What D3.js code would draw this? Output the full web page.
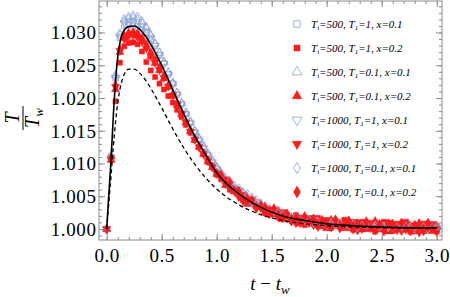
<!DOCTYPE html>
<html>
<head>
<meta charset="utf-8">
<script src="https://cdn.jsdelivr.net/npm/d3@7"></script>
<style>
  body { margin: 0; background: #fff; }
  svg { display: block; font-family: "Liberation Serif", "DejaVu Serif", serif; }
  svg text { font-family: "Liberation Serif", "DejaVu Serif", serif !important; }
</style>
</head>
<body>
<div id="chart"></div>
<script>
'use strict';

// time samples shared by all simulated series
var tSample = [0,0.04,0.08,0.12,0.16,0.2,0.24,0.28,0.32,0.36,0.4,0.44,0.48,0.52,0.56,0.6,0.64,0.68,0.72,0.76,
  0.8,0.84,0.88,0.92,0.96,1,1.04,1.08,1.12,1.16,1.2,1.24,1.28,1.32,1.36,1.4,1.44,1.48,1.52,1.56,1.6,1.64,1.68,
  1.72,1.76,1.8,1.84,1.88,1.92,1.96,2,2.04,2.08,2.12,2.16,2.2,2.24,2.28,2.32,2.36,2.4,2.44,2.48,2.52,2.56,2.6,
  2.64,2.68,2.72,2.76,2.8,2.84,2.88,2.92,2.96,3];

var s500a01 = [1,1.0110,1.0230,1.0292,1.0310,1.0312,1.0310,1.0309,1.0305,1.0299,1.0290,1.0279,1.0265,1.0253,1.0236,1.0222,1.0205,1.0191,1.0175,1.0162,1.0147,1.0136,1.0123,1.0113,1.0101,1.0092,
  1.0082,1.0076,1.0067,1.0063,1.0059,1.0051,1.0044,1.0043,1.0041,1.0034,1.0032,1.0026,1.0028,1.0022,1.0022,1.0016,1.0018,1.0018,1.0013,1.0013,
  1.0014,1.0008,1.0011,1.0009,1.0006,1.0010,1.0006,1.0008,1.0009,1.0004,1.0006,1.0006,1.0002,1.0007,1.0003,1.0004,1.0007,1.0002,1.0004,1.0002,
  1.0005,1.0003,1.0000,1.0004,1.0004,1.0001,1.0002,1.0003,1.0000,1.0004];
var s500a02 = [1,1.0107,1.0195,1.0254,1.0279,1.0284,1.0285,1.0282,1.0271,1.0255,1.0242,1.0232,1.0222,1.0213,1.0203,1.0193,1.0182,1.0171,1.0159,1.0147,1.0136,1.0125,1.0115,1.0102,1.0095,1.0083,
  1.0076,1.0074,1.0060,1.0059,1.0057,1.0044,1.0042,1.0044,1.0034,1.0034,1.0024,1.0029,1.0030,1.0018,1.0020,1.0021,1.0012,1.0021,1.0012,1.0006,
  1.0016,1.0008,1.0017,1.0004,1.0009,1.0002,1.0012,1.0005,1.0014,1.0002,0.9999,1.0008,1.0011,1.0000,1.0006,0.9996,1.0008,1.0011,1.0000,0.9997,
  1.0008,1.0001,1.0011,0.9996,1.0005,0.9998,1.0008,0.9997,1.0004,0.9996];
var s500b01 = [1,1.0112,1.0235,1.0298,1.0320,1.0324,1.0326,1.0324,1.0317,1.0308,1.0296,1.0283,1.0269,1.0255,1.0239,1.0223,1.0208,1.0192,1.0177,1.0163,1.0149,1.0137,1.0125,1.0114,1.0103,1.0093,
  1.0083,1.0073,1.0070,1.0062,1.0053,1.0054,1.0047,1.0041,1.0039,1.0037,1.0030,1.0030,1.0023,1.0023,1.0024,1.0018,1.0016,1.0017,1.0015,1.0010,
  1.0013,1.0013,1.0010,1.0007,1.0011,1.0007,1.0009,1.0007,1.0004,1.0007,1.0009,1.0004,1.0005,1.0007,1.0002,1.0005,1.0004,1.0001,1.0005,1.0004,
  1.0002,1.0003,1.0005,1.0001,1.0003,1.0005,1.0001,1.0002,1.0000,1.0003];
var s500b02 = [1,1.0105,1.0213,1.0270,1.0292,1.0297,1.0298,1.0295,1.0287,1.0277,1.0264,1.0253,1.0242,1.0230,1.0217,1.0203,1.0189,1.0175,1.0162,1.0149,1.0136,1.0125,1.0114,1.0104,1.0094,1.0084,
  1.0083,1.0067,1.0067,1.0057,1.0058,1.0047,1.0038,1.0042,1.0036,1.0038,1.0026,1.0028,1.0022,1.0028,1.0015,1.0020,1.0015,1.0019,1.0008,1.0016,
  1.0011,1.0016,1.0006,1.0011,1.0001,1.0014,1.0004,1.0008,1.0001,1.0013,1.0004,1.0009,0.9999,1.0008,1.0000,1.0012,0.9999,1.0006,0.9996,1.0008,
  1.0000,1.0009,0.9999,1.0004,0.9996,1.0009,1.0000,1.0006,0.9997,1.0005];
var s1000a01 = [1,1.0109,1.0231,1.0294,1.0314,1.0317,1.0316,1.0314,1.0309,1.0302,1.0292,1.0280,1.0266,1.0252,1.0236,1.0221,1.0205,1.0190,1.0175,1.0161,1.0147,1.0135,1.0123,1.0112,1.0102,1.0091,
  1.0081,1.0070,1.0069,1.0060,1.0056,1.0053,1.0043,1.0041,1.0040,1.0033,1.0028,1.0029,1.0026,1.0021,1.0023,1.0018,1.0019,1.0013,1.0014,1.0014,
  1.0011,1.0014,1.0010,1.0010,1.0006,1.0008,1.0009,1.0006,1.0007,1.0006,1.0004,1.0006,1.0007,1.0004,1.0004,1.0002,1.0005,1.0006,1.0003,1.0002,
  1.0004,1.0001,1.0003,1.0005,1.0001,1.0003,1.0002,1.0000,1.0003,1.0002];
var s1000a02 = [1,1.0106,1.0217,1.0272,1.0290,1.0295,1.0296,1.0293,1.0286,1.0276,1.0264,1.0254,1.0243,1.0231,1.0218,1.0204,1.0190,1.0176,1.0163,1.0149,1.0137,1.0125,1.0115,1.0104,1.0095,1.0085,
  1.0078,1.0076,1.0062,1.0061,1.0049,1.0052,1.0043,1.0045,1.0034,1.0035,1.0025,1.0030,1.0025,1.0018,1.0026,1.0016,1.0018,1.0009,1.0018,1.0010,
  1.0017,1.0006,1.0012,1.0008,1.0014,1.0004,1.0010,1.0001,1.0008,1.0004,1.0011,0.9998,1.0009,1.0004,1.0010,0.9999,1.0005,1.0000,1.0010,1.0000,
  1.0005,0.9997,1.0008,1.0001,1.0006,0.9995,1.0005,1.0001,1.0008,0.9998];
var s1000b01 = [1,1.0111,1.0233,1.0296,1.0317,1.0321,1.0322,1.0320,1.0314,1.0306,1.0295,1.0282,1.0269,1.0254,1.0239,1.0223,1.0208,1.0192,1.0178,1.0164,1.0150,1.0138,1.0127,1.0115,1.0105,1.0095,
  1.0086,1.0077,1.0073,1.0066,1.0062,1.0056,1.0053,1.0048,1.0044,1.0039,1.0035,1.0031,1.0028,1.0026,1.0022,1.0021,1.0018,1.0017,1.0014,1.0014,
  1.0014,1.0010,1.0010,1.0010,1.0006,1.0009,1.0007,1.0009,1.0005,1.0006,1.0007,1.0003,1.0005,1.0007,1.0003,1.0005,1.0004,1.0003,1.0005,1.0003,
  1.0001,1.0004,1.0003,1.0002,1.0004,1.0002,1.0003,1.0000,1.0002,1.0003];
var s1000b02 = [1,1.0108,1.0219,1.0274,1.0294,1.0299,1.0300,1.0298,1.0291,1.0281,1.0269,1.0258,1.0246,1.0233,1.0219,1.0205,1.0191,1.0177,1.0163,1.0150,1.0137,1.0126,1.0115,1.0105,1.0095,1.0085,
  1.0081,1.0069,1.0071,1.0058,1.0057,1.0043,1.0046,1.0044,1.0032,1.0033,1.0033,1.0023,1.0031,1.0021,1.0017,1.0023,1.0012,1.0017,1.0010,1.0019,
  1.0010,1.0014,1.0004,1.0013,1.0007,1.0003,1.0014,1.0004,1.0006,1.0011,1.0000,1.0007,1.0001,1.0011,1.0002,0.9999,1.0007,0.9997,1.0008,1.0004,
  0.9999,1.0009,1.0000,0.9997,1.0006,1.0002,0.9997,1.0009,1.0000,0.9996];

// the two analytic curves
var tCurve = [0,0.02,0.04,0.06,0.08,0.1,0.12,0.15,0.2,0.25,0.3,0.35,0.4,0.5,0.6,0.7,0.8,0.9,1,1.2,1.4,1.6,1.8,2,2.25,2.5,2.75,3];
var solidCurve = [1,1.0055,1.0107,1.0172,1.0225,1.0262,1.0284,1.0301,1.0309,1.0310,1.0305,1.0295,1.0282,1.0250,1.0213,1.0176,1.0142,1.0113,1.0086,
  1.0054,1.0033,1.0020,1.0013,1.0008,1.0005,1.0003,1.0002,1.0002];
var dashedCurve = [1,1.0042,1.0082,1.0125,1.0162,1.0192,1.0213,1.0232,1.0244,1.0244,1.0238,1.0228,1.0215,1.0185,1.0153,1.0124,1.0099,1.0078,1.0061,
  1.0037,1.0022,1.0013,1.0008,1.0005,1.0003,1.0002,1.0001,1.0001];

var legendTi = ['500','500','500','500','1000','1000','1000','1000'];
var legendT1 = ['1','1','0.1','0.1','1','1','0.1','0.1'];
var legendX = ['0.1','0.2','0.1','0.2','0.1','0.2','0.1','0.2'];

var xTicks = [0, 0.5, 1, 1.5, 2, 2.5, 3];
var yTicks = [1.000, 1.005, 1.010, 1.015, 1.020, 1.025, 1.030];

var series = [
  {values: s500a01, shape: d3.symbolSquare, filled: false, size: 30},
  {values: s500a02, shape: d3.symbolSquare, filled: true, size: 26},
  {values: s500b01, shape: d3.symbolTriangle, filled: false, size: 30},
  {values: s500b02, shape: d3.symbolTriangle, filled: true, size: 28},
  {values: s1000a01, shape: 'down', filled: false, size: 30},
  {values: s1000a02, shape: 'down', filled: true, size: 28},
  {values: s1000b01, shape: d3.symbolDiamond, filled: false, size: 26},
  {values: s1000b02, shape: d3.symbolDiamond, filled: true, size: 30}
];

var BLUE = '#8aa3d6';
var RED = '#ff1a1a';
var FRAME = '#8c8c8c';
var SERIF = '"Liberation Serif", "DejaVu Serif", serif';

var width = 450, height = 297;
var pLeft = 99, pRight = 442, pTop = 1, pBottom = 240;

var svg = d3.select('#chart').append('svg')
  .attr('width', width)
  .attr('height', height);

var x = d3.scaleLinear().domain([-0.07, 3.048]).range([pLeft, pRight]);
var y = d3.scaleLinear().domain([0.99832, 1.03481]).range([pBottom, pTop]);

svg.append('clipPath').attr('id', 'plot')
  .append('rect').attr('x', pLeft).attr('y', pTop).attr('width', pRight - pLeft).attr('height', pBottom - pTop);

function symbolPath(s) {
  var type = s.shape === 'down' ? d3.symbolTriangle : s.shape;
  return d3.symbol().type(type).size(s.size)();
}

function drawMarker(sel, s) {
  sel.append('path')
    .attr('d', symbolPath(s))
    .attr('transform', function(d) {
      var tr = 'translate(' + d[0] + ',' + d[1] + ')';
      return s.shape === 'down' ? tr + ' rotate(180)' : tr;
    })
    .attr('fill', s.filled ? RED : 'none')
    .attr('stroke', s.filled ? RED : BLUE)
    .attr('stroke-width', s.filled ? 0.5 : 0.8);
}

// markers
var markers = svg.append('g').attr('clip-path', 'url(#plot)');
series.forEach(function(s) {
  var pts = tSample.map(function(t, i) { return [x(t), y(s.values[i])]; });
  var g = markers.append('g').selectAll('g').data(pts).enter().append('g');
  drawMarker(g, s);
});

// curves
var line = d3.line()
  .x(function(d) { return x(d[0]); })
  .y(function(d) { return y(d[1]); })
  .curve(d3.curveMonotoneX);

markers.append('path')
  .attr('d', line(tCurve.map(function(t, i) { return [t, dashedCurve[i]]; })))
  .attr('fill', 'none').attr('stroke', '#000').attr('stroke-width', 1.3)
  .attr('stroke-dasharray', '4,3');

markers.append('path')
  .attr('d', line(tCurve.map(function(t, i) { return [t, solidCurve[i]]; })))
  .attr('fill', 'none').attr('stroke', '#000').attr('stroke-width', 1.6);

// frame and ticks
var xMinor = d3.range(0, 3.001, 0.1);
var yMinor = d3.range(0.999, 1.0345, 0.001);

function styleAxis(g) {
  g.select('.domain').remove();
  g.attr('font-family', SERIF);
  g.selectAll('line').attr('stroke', FRAME);
}

svg.append('g').attr('transform', 'translate(0,' + pBottom + ')')
  .call(d3.axisBottom(x).tickValues(xMinor).tickSize(-3).tickFormat(''))
  .call(styleAxis);
svg.append('g').attr('transform', 'translate(0,' + pTop + ')')
  .call(d3.axisTop(x).tickValues(xMinor).tickSize(-3).tickFormat(''))
  .call(styleAxis);
svg.append('g').attr('transform', 'translate(0,' + pTop + ')')
  .call(d3.axisTop(x).tickValues(xTicks).tickSize(-6).tickFormat(''))
  .call(styleAxis);
svg.append('g').attr('transform', 'translate(' + pLeft + ',0)')
  .call(d3.axisLeft(y).tickValues(yMinor).tickSize(-3).tickFormat(''))
  .call(styleAxis);
svg.append('g').attr('transform', 'translate(' + pRight + ',0)')
  .call(d3.axisRight(y).tickValues(yMinor).tickSize(-3).tickFormat(''))
  .call(styleAxis);
svg.append('g').attr('transform', 'translate(' + pRight + ',0)')
  .call(d3.axisRight(y).tickValues(yTicks).tickSize(-6).tickFormat(''))
  .call(styleAxis);

var xAxis = svg.append('g').attr('transform', 'translate(0,' + pBottom + ')')
  .call(d3.axisBottom(x).tickValues(xTicks).tickSize(-6).tickFormat(d3.format('.1f')))
  .call(styleAxis);
xAxis.selectAll('text')
  .attr('y', 21.5).attr('dy', null)
  .attr('fill', '#000').style('font-size', '19px').style('letter-spacing', '0.6px');

var yAxis = svg.append('g').attr('transform', 'translate(' + pLeft + ',0)')
  .call(d3.axisLeft(y).tickValues(yTicks).tickSize(-6).tickFormat(d3.format('.3f')))
  .call(styleAxis);
yAxis.selectAll('text')
  .attr('x', -2.5).attr('dy', '0.34em')
  .attr('fill', '#000').style('font-size', '19px').style('letter-spacing', '0.6px');

svg.append('rect')
  .attr('x', pLeft).attr('y', pTop).attr('width', pRight - pLeft).attr('height', pBottom - pTop)
  .attr('fill', 'none').attr('stroke', FRAME).attr('stroke-width', 1);

// axis titles
var xt = svg.append('text')
  .attr('x', 270).attr('y', 290)
  .attr('text-anchor', 'middle')
  .style('font-size', '19px');
xt.append('tspan').style('font-style', 'italic').text('t');
xt.append('tspan').text(' \u2212 ');
xt.append('tspan').style('font-style', 'italic').text('t');
xt.append('tspan').style('font-style', 'italic').style('font-size', '13px').attr('dy', 4).text('w');

var yt = svg.append('g').attr('transform', 'translate(23,118) rotate(-90)');
yt.append('text').attr('x', 0).attr('y', -4).attr('text-anchor', 'middle')
  .style('font-size', '20px').style('font-style', 'italic').text('T');
yt.append('line').attr('x1', -12).attr('x2', 12).attr('y1', 0).attr('y2', 0)
  .attr('stroke', '#000').attr('stroke-width', 1);
var den = yt.append('text').attr('x', 0).attr('y', 16).attr('text-anchor', 'middle')
  .style('font-size', '20px').style('font-style', 'italic');
den.append('tspan').text('T');
den.append('tspan').attr('dy', 4).style('font-size', '13px').text('w');

// legend
var legend = svg.append('g');
series.forEach(function(s, i) {
  var cy = 24 + 24 * i;
  var g = legend.append('g').datum([297, cy]);
  drawMarker(g, {shape: s.shape, filled: s.filled, size: s.size * 1.4});
  var txt = legend.append('text')
    .attr('x', 311).attr('y', cy + 4)
    .style('font-size', '11px').style('font-style', 'italic');
  txt.append('tspan').text('T');
  txt.append('tspan').attr('dy', 2).style('font-size', '7px').text('i');
  txt.append('tspan').attr('dy', -2).text('=' + legendTi[i] + ', T');
  txt.append('tspan').attr('dy', 2).style('font-size', '7px').text('1');
  txt.append('tspan').attr('dy', -2).text('=' + legendT1[i] + ', x=' + legendX[i]);
});
</script>
</body>
</html>
